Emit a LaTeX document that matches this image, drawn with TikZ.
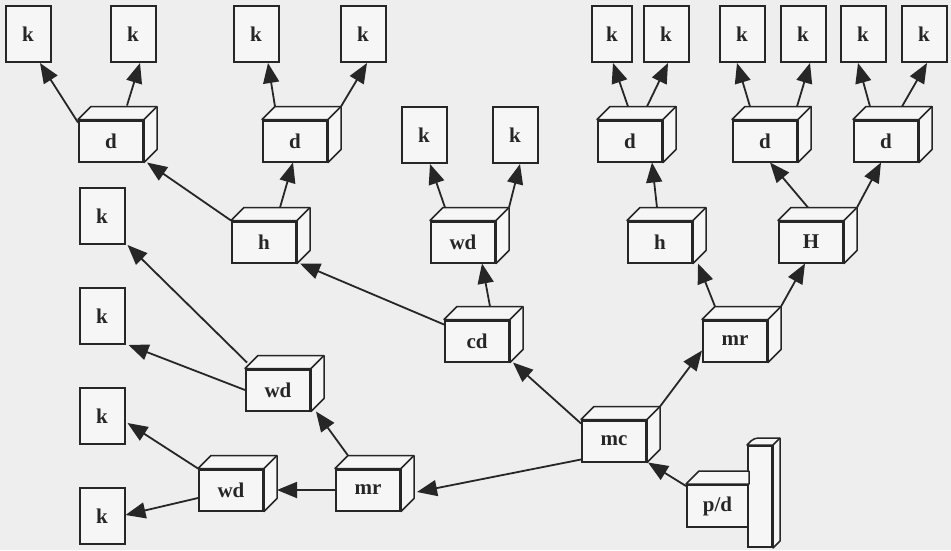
\documentclass[tikz,border=0pt]{standalone}
\usepackage{fontspec}
\setmainfont{Liberation Serif}
\usetikzlibrary{arrows.meta,calc}
\definecolor{paper}{HTML}{EEEEEE}
\definecolor{ink}{HTML}{262626}
\definecolor{boxfill}{HTML}{F6F6F6}
\tikzset{
  lbl/.style={font=\bfseries\fontsize{21}{23}\selectfont, text=ink},
  cubefront/.style={lbl, draw=ink, fill=boxfill, line width=2pt, inner sep=0pt,
    minimum width=64pt, minimum height=41pt},
  kbox/.style={lbl, draw=ink, fill=boxfill, line width=2pt, inner sep=0pt,
    minimum width=45pt, minimum height=56pt},
  depth/.style={draw=ink, fill=boxfill, line width=1.5pt, line join=round},
  link/.style={draw=ink, line width=1.8pt, -{Triangle[length=20pt,width=16pt]}},
}
% a box drawn in perspective: front face is the node, top and right faces behind it
\newcommand\cubebox[4]{%
  \node[cubefront] (#1) at (#2,#3) {#4};
  \filldraw[depth] (#1.north west) -- ++(13,-13) -| ($(#1.south east)+(13,-13)$)
    -- (#1.south east) -- (#1.north east) -- cycle;
  \draw[depth] (#1.north east) -- ++(13,-13);
}
\begin{document}
\begin{tikzpicture}[x=1pt,y=-1pt]
\useasboundingbox (0,0) rectangle (951,550);
\fill[paper] (0,0) rectangle (951,550);

% leaves
\node[kbox] (k1) at (28,34) {k};
\node[kbox] (k2) at (133,34) {k};
\node[kbox] (k3) at (256,34) {k};
\node[kbox] (k4) at (363,34) {k};
\node[kbox] (k5) at (424,135) {k};
\node[kbox] (k6) at (515,135) {k};
\node[kbox, minimum width=40pt] (k7) at (612,34) {k};
\node[kbox] (k8) at (666,34) {k};
\node[kbox] (k9) at (742,34) {k};
\node[kbox] (k10) at (803,34) {k};
\node[kbox] (k11) at (863,34) {k};
\node[kbox] (k12) at (924,34) {k};
\node[kbox] (k13) at (102,216) {k};
\node[kbox] (k14) at (102,316) {k};
\node[kbox] (k15) at (102,416) {k};
\node[kbox] (k16) at (102,516) {k};

% inner boxes
\cubebox{d1}{111}{141}{d}
\cubebox{d2}{295}{141}{d}
\cubebox{d3}{630}{141}{d}
\cubebox{d4}{765}{141}{d}
\cubebox{d5}{886}{141}{d}
\cubebox{h1}{264}{242}{h}
\cubebox{wd1}{463}{242}{wd}
\cubebox{h2}{660}{242}{h}
\cubebox{H}{811}{242}{H}
\cubebox{cd}{477}{341}{cd}
\cubebox{mr2}{735}{341}{mr}
\cubebox{wd2}{278}{390}{wd}
\cubebox{mc}{614}{441}{mc}
\cubebox{wd3}{231}{490}{wd}
\cubebox{mr1}{368}{490}{mr}

% p/d box leaning on a tall panel
\node[cubefront, minimum width=24pt, minimum height=101pt] (pnl) at (760,496.5) {};
\filldraw[depth] (pnl.north west) [rounded corners=4pt] -- ++(7,-7) [sharp corners]
  -- ($(pnl.north east)+(7,-7)$) -- ($(pnl.south east)+(7,-7)$)
  -- (pnl.south east) -- (pnl.north east) -- cycle;
\draw[depth] (pnl.north east) -- ++(7,-7);
\node[cubefront, minimum width=61pt, minimum height=42pt] (pd) at (717.5,506) {p/d};
\filldraw[depth] (pd.north west) -- ++(13,-13) -- ($(pd.north east)+(0,-13)$)
  -- (pd.north east) -- cycle;

% connectors
\draw[link] ($(d1.north west)+(0,3)$) -- ($(k1.south)+(12,0)$);
\draw[link] ($(d1.north)+(16,-14)$) -- ($(k2.south)+(7,0)$);
\draw[link] ($(d2.north west)+(13,-13)$) -- ($(k3.south)+(12,0)$);
\draw[link] ($(d2.north east)+(13,-13)$) -- ($(k4.south)+(4,0)$);
\draw[link] ($(h1.north)+(16,-13)$) -- ($(d2.south)+(-2,0)$);
\draw[link] (h1.north west) -- ($(d1.south east)+(3,0)$);
\draw[link] ($(cd.north west)+(0,5)$) -- ($(h1.south east)+(3,0)$);
\draw[link] ($(cd.north)+(13,-13)$) -- ($(wd1.south)+(19,0)$);
\draw[link] ($(wd1.north)+(-18,-13)$) -- ($(k5.south)+(6,0)$);
\draw[link] ($(wd1.north east)+(13,-13)$) -- ($(k6.south)+(5,0)$);
\draw[link] ($(mc.north west)+(0,4)$) -- ($(cd.south east)+(3,0)$);
\draw[link] ($(mc.north east)+(13,-13)$) -- ($(mr2.south west)+(0,-12)$);
\draw[link] ($(mc.south west)+(0,-3)$) -- ($(mr1.east)+(16,2)$);
\draw[link] ($(pd.north west)+(0,2)$) -- ($(mc.south east)+(1,0)$);
\draw[link] ($(mr2.north west)+(13,-13)$) -- ($(h2.south east)+(5,0)$);
\draw[link] ($(mr2.north east)+(13,-13)$) -- ($(H.south)+(-6,0)$);
\draw[link] ($(h2.north)+(-3,-13)$) -- ($(d3.south)+(22,0)$);
\draw[link] ($(H.north)+(-3,-13)$) -- ($(d4.south)+(5,0)$);
\draw[link] ($(H.north east)+(13,-13)$) -- ($(d5.south)+(-5,0)$);
\draw[link] ($(d3.north)+(-2,-13)$) -- ($(k7.south)+(1,0)$);
\draw[link] ($(d3.north)+(17,-13)$) -- ($(k8.south)+(2,0)$);
\draw[link] ($(d4.north)+(-15,-13)$) -- ($(k9.south)+(-5,0)$);
\draw[link] ($(d4.north)+(32,-13)$) -- ($(k10.south)+(7,0)$);
\draw[link] ($(d5.north)+(-16,-13)$) -- ($(k11.south)+(-5,0)$);
\draw[link] ($(d5.north)+(16,-13)$) -- ($(k12.south)+(3,0)$);
\draw[link] ($(wd2.north west)+(2,-6)$) -- ($(k13.south east)+(2,0)$);
\draw[link] (wd2.west) -- ($(k14.south east)+(3,0)$);
\draw[link] ($(mr1.north west)+(13,-13)$) -- ($(wd2.south east)+(5,0)$);
\draw[link] (wd3.north west) -- ($(k15.east)+(2,7)$);
\draw[link] ($(wd3.west)+(0,8)$) -- ($(k16.east)+(0,-1)$);
\draw[link] (mr1.west) -- ($(wd3.east)+(13,0)$);
\end{tikzpicture}
\end{document}
